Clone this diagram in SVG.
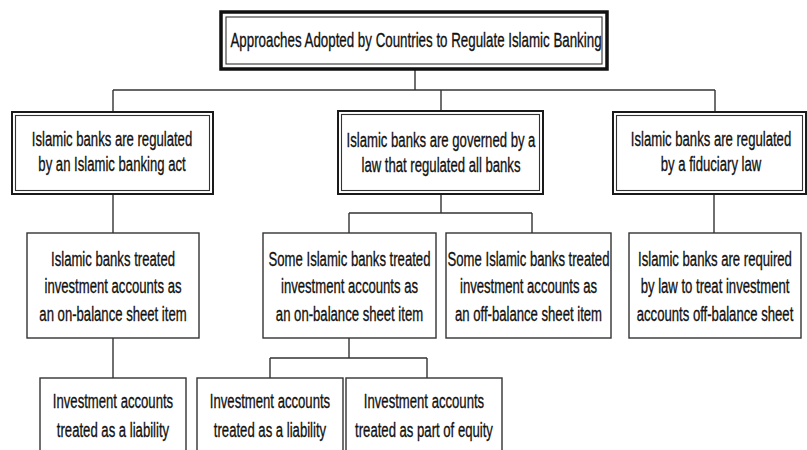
<svg xmlns="http://www.w3.org/2000/svg" width="807" height="450" viewBox="0 0 807 450">
  <style>
    .bg { fill: #ffffff; }
    .wire { stroke: #333333; stroke-width: 1.4; fill: none; }
    .frame-heavy { fill: #ffffff; stroke: #111111; stroke-width: 3.5; }
    .frame-outer { fill: #ffffff; stroke: #1a1a1a; stroke-width: 2; }
    .frame-inner { fill: none; stroke: #333333; stroke-width: 1.1; }
    .frame-thin { fill: #ffffff; stroke: #333333; stroke-width: 1.4; }
    .label { font-family: "Liberation Sans", Arial, sans-serif; font-size: 21px; fill: #111111; stroke: #111111; stroke-width: 0.35; text-anchor: middle; }
  </style>

  <rect class="bg" x="0" y="0" width="807" height="450"/>

  <!-- connectors -->
  <g id="connectors">
    <path class="wire" d="M415 69 V90"/>
    <path class="wire" d="M113 90 H715"/>
    <path class="wire" d="M113 90 V112 M441 90 V111 M715 90 V112"/>
    <path class="wire" d="M113 194 V233"/>
    <path class="wire" d="M441 194 V213 M349 213 H532 M349 213 V233 M532 213 V233"/>
    <path class="wire" d="M714 194 V233"/>
    <path class="wire" d="M113 338 V378"/>
    <path class="wire" d="M349 338 V358 M270 358 H427 M270 358 V378 M427 358 V378"/>
  </g>

  <!-- root -->
  <g id="root">
    <rect class="frame-heavy" x="221" y="12" width="386" height="57"/>
    <rect class="frame-inner" x="226" y="17" width="376" height="47"/>
    <text class="label" transform="translate(416 47) scale(0.635 1)">Approaches Adopted by Countries to Regulate Islamic Banking</text>
  </g>

  <!-- first level -->
  <g id="act">
    <rect class="frame-outer" x="12" y="112" width="201" height="82"/>
    <rect class="frame-inner" x="15.5" y="115.5" width="194" height="75"/>
    <text class="label" transform="translate(112 146) scale(0.625 1)"><tspan x="0" y="0">Islamic banks are regulated</tspan><tspan x="0" y="25">by an Islamic banking act</tspan></text>
  </g>

  <g id="general-law">
    <rect class="frame-outer" x="338" y="111" width="205" height="83"/>
    <rect class="frame-inner" x="341.5" y="114.5" width="198" height="76"/>
    <text class="label" transform="translate(441 147) scale(0.625 1)"><tspan x="0" y="0">Islamic banks are governed by a</tspan><tspan x="0" y="25">law that regulated all banks</tspan></text>
  </g>

  <g id="fiduciary">
    <rect class="frame-outer" x="613" y="112" width="193" height="82"/>
    <rect class="frame-inner" x="616.5" y="115.5" width="186" height="75"/>
    <text class="label" transform="translate(711 146) scale(0.625 1)"><tspan x="0" y="0">Islamic banks are regulated</tspan><tspan x="0" y="25">by a fiduciary law</tspan></text>
  </g>

  <!-- second level -->
  <g id="act-on-balance">
    <rect class="frame-thin" x="27" y="233" width="172" height="105"/>
    <text class="label" transform="translate(113 266) scale(0.625 1)"><tspan x="0" y="0">Islamic banks treated</tspan><tspan x="0" y="27.5">investment accounts as</tspan><tspan x="0" y="55">an on-balance sheet item</tspan></text>
  </g>

  <g id="some-on-balance">
    <rect class="frame-thin" x="263" y="233" width="173" height="105"/>
    <text class="label" transform="translate(349.5 266) scale(0.625 1)"><tspan x="0" y="0">Some Islamic banks treated</tspan><tspan x="0" y="27.5">investment accounts as</tspan><tspan x="0" y="55">an on-balance sheet item</tspan></text>
  </g>

  <g id="some-off-balance">
    <rect class="frame-thin" x="446" y="233" width="165" height="105"/>
    <text class="label" transform="translate(528.5 266) scale(0.625 1)"><tspan x="0" y="0">Some Islamic banks treated</tspan><tspan x="0" y="27.5">investment accounts as</tspan><tspan x="0" y="55">an off-balance sheet item</tspan></text>
  </g>

  <g id="fiduciary-off-balance">
    <rect class="frame-thin" x="629" y="233" width="172" height="105"/>
    <text class="label" transform="translate(715 266) scale(0.625 1)"><tspan x="0" y="0">Islamic banks are required</tspan><tspan x="0" y="27.5">by law to treat investment</tspan><tspan x="0" y="55">accounts off-balance sheet</tspan></text>
  </g>

  <!-- third level -->
  <g id="act-liability">
    <rect class="frame-thin" x="40" y="378" width="146" height="90"/>
    <text class="label" transform="translate(113 408) scale(0.625 1)"><tspan x="0" y="0">Investment accounts</tspan><tspan x="0" y="29">treated as a liability</tspan></text>
  </g>

  <g id="some-liability">
    <rect class="frame-thin" x="197" y="378" width="146" height="90"/>
    <text class="label" transform="translate(270 408) scale(0.625 1)"><tspan x="0" y="0">Investment accounts</tspan><tspan x="0" y="29">treated as a liability</tspan></text>
  </g>

  <g id="some-equity">
    <rect class="frame-thin" x="346" y="378" width="156" height="90"/>
    <text class="label" transform="translate(424 408) scale(0.625 1)"><tspan x="0" y="0">Investment accounts</tspan><tspan x="0" y="29">treated as part of equity</tspan></text>
  </g>
</svg>
